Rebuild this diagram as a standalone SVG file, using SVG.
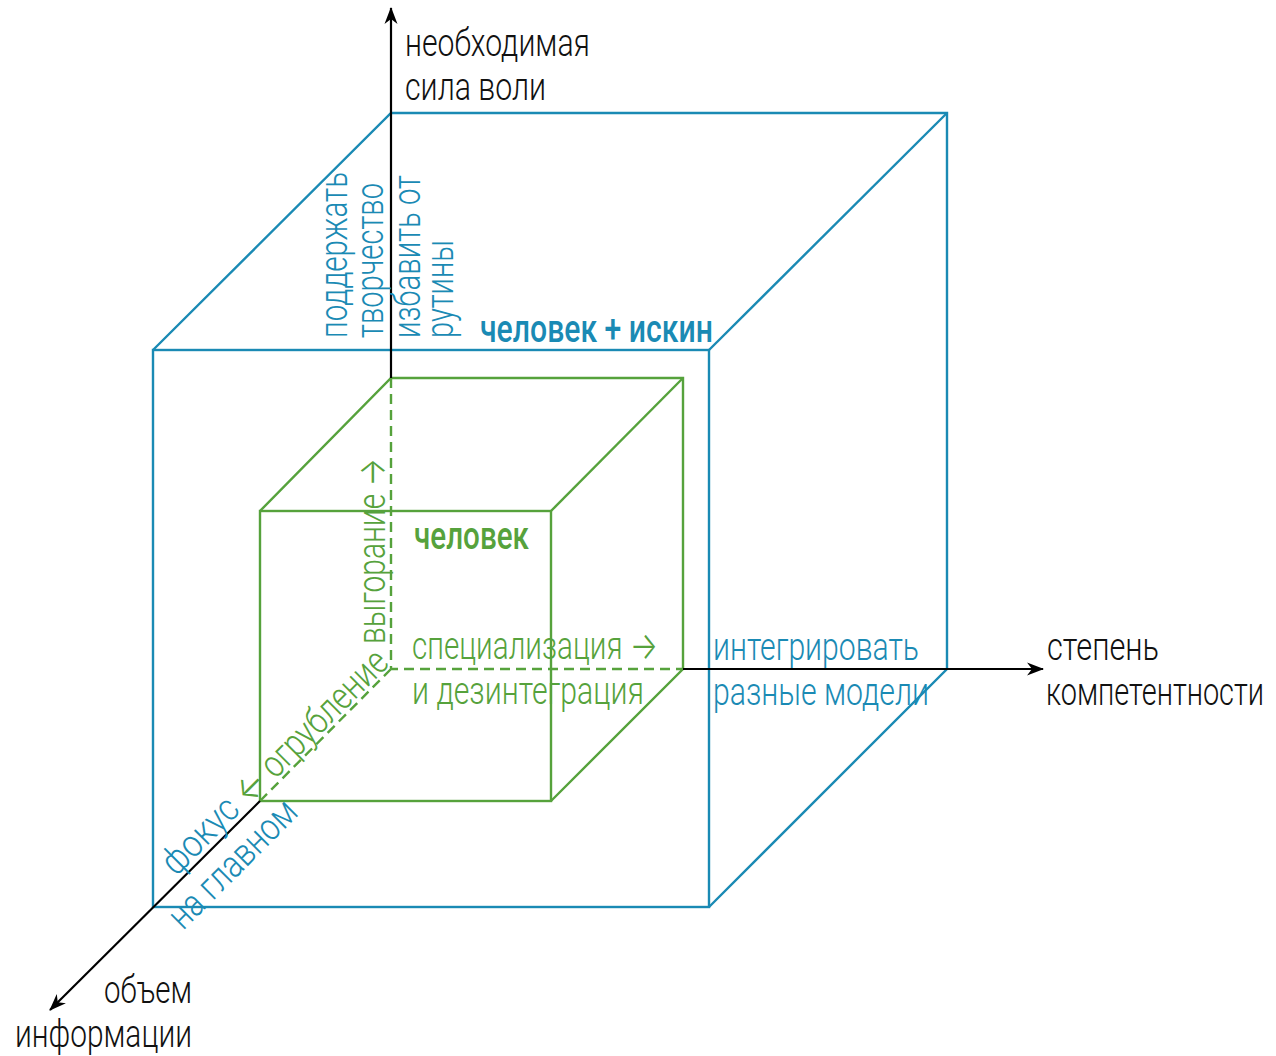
<svg xmlns="http://www.w3.org/2000/svg" width="1276" height="1056" viewBox="0 0 1276 1056">
  <style>
    .t { font-family: Roboto, "Liberation Sans", sans-serif; font-weight: 300; font-size: 38px; }
    .b { font-family: Roboto, "Liberation Sans", sans-serif; font-weight: 500; font-size: 38px; }
    .ar { font-family: Inter, "DejaVu Sans", sans-serif; font-weight: 300; }
    .k { fill: #111111; }
    .blue { fill: #1a8ab4; }
    .green { fill: #56a23c; }
    .axis { stroke: #000000; stroke-width: 2.2; fill: none; }
    .bl { stroke: #1a8ab4; stroke-width: 2.4; fill: none; }
    .gr { stroke: #56a23c; stroke-width: 2.4; fill: none; }
    .gd { stroke: #56a23c; stroke-width: 2.4; fill: none; stroke-dasharray: 10 6; }
  </style>
  <defs>
    <marker id="arr" viewBox="-18 -8 20 16" markerWidth="20" markerHeight="16" refX="0" refY="0" orient="auto" markerUnits="userSpaceOnUse">
      <path d="M1,0 L-16,-6.5 L-11,0 L-16,6.5 Z" fill="#000000"/>
    </marker>
  </defs>
  <rect width="1276" height="1056" fill="#ffffff"/>

  <g id="outer-cube">
    <rect x="153" y="350" width="556" height="557" class="bl"/>
    <polyline points="153,350 391,113 947,113 947,669 709,907" class="bl"/>
    <line x1="709" y1="350" x2="947" y2="113" class="bl"/>
  </g>

  <g id="inner-cube">
    <rect x="260" y="511" width="291" height="290" class="gr"/>
    <polyline points="260,511 391,378 683,378 683,669 551,801" class="gr"/>
    <line x1="551" y1="511" x2="683" y2="378" class="gr"/>
    <path d="M391,378 V669 H683 M391,669 L260,801" class="gd"/>
  </g>

  <g id="connectors">
    <line x1="391" y1="378" x2="391" y2="8" class="axis" marker-end="url(#arr)"/>
    <line x1="683" y1="669" x2="1043" y2="669" class="axis" marker-end="url(#arr)"/>
    <line x1="260" y1="801" x2="50" y2="1010" class="axis" marker-end="url(#arr)"/>
  </g>

  <g id="axis-labels">
    <text class="t k" x="405" y="56" textLength="185" lengthAdjust="spacingAndGlyphs">необходимая</text>
    <text class="t k" x="405" y="100" textLength="141" lengthAdjust="spacingAndGlyphs">сила воли</text>
    <text class="t k" x="1047" y="660" textLength="112" lengthAdjust="spacingAndGlyphs">степень</text>
    <text class="t k" x="1046" y="705" textLength="218" lengthAdjust="spacingAndGlyphs">компетентности</text>
    <text class="t k" x="104" y="1003" textLength="88" lengthAdjust="spacingAndGlyphs">объем</text>
    <text class="t k" x="15" y="1047" textLength="177" lengthAdjust="spacingAndGlyphs">информации</text>
  </g>

  <g id="outer-labels">
    <text class="b blue" x="480" y="342" textLength="233" lengthAdjust="spacingAndGlyphs">человек + искин</text>
    <text class="t blue" x="713" y="660" textLength="206" lengthAdjust="spacingAndGlyphs">интегрировать</text>
    <text class="t blue" x="713" y="705" textLength="216" lengthAdjust="spacingAndGlyphs">разные модели</text>
    <text class="t blue" transform="translate(347,338) rotate(-90)" textLength="166" lengthAdjust="spacingAndGlyphs">поддержать</text>
    <text class="t blue" transform="translate(383,338) rotate(-90)" textLength="155" lengthAdjust="spacingAndGlyphs">творчество</text>
    <text class="t blue" transform="translate(420,338) rotate(-90)" textLength="163" lengthAdjust="spacingAndGlyphs">избавить от</text>
    <text class="t blue" transform="translate(453,338) rotate(-90)" textLength="98" lengthAdjust="spacingAndGlyphs">рутины</text>
    <text class="t blue" transform="translate(176,877) rotate(-45)" textLength="93" lengthAdjust="spacingAndGlyphs">фокус</text>
    <text class="t blue" transform="translate(183,931) rotate(-45)" textLength="165" lengthAdjust="spacingAndGlyphs">на главном</text>
  </g>

  <g id="inner-labels">
    <text class="b green" x="414" y="549" textLength="115" lengthAdjust="spacingAndGlyphs">человек</text>
    <text class="t green" x="412" y="659" textLength="246" lengthAdjust="spacingAndGlyphs">специализация <tspan class="ar">→</tspan></text>
    <text class="t green" x="412" y="704" textLength="232" lengthAdjust="spacingAndGlyphs">и дезинтеграция</text>
    <text class="t green" transform="translate(385,644) rotate(-90)" textLength="186" lengthAdjust="spacingAndGlyphs">выгорание <tspan class="ar">→</tspan></text>
    <text class="t green" transform="translate(249,806) rotate(-45)" textLength="200" lengthAdjust="spacingAndGlyphs"><tspan class="ar">←</tspan> огрубление</text>
  </g>
</svg>
